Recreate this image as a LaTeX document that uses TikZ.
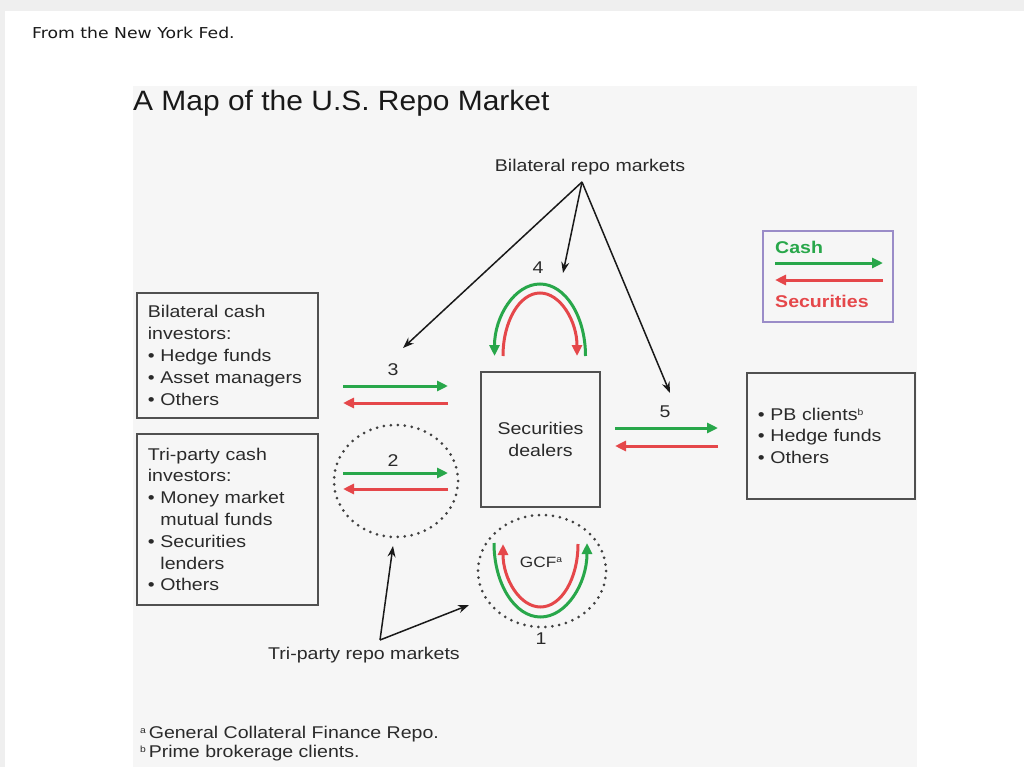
\documentclass[tikz,border=0pt]{standalone}
\usepackage{fontspec}
\setmainfont{Liberation Sans}
\newfontfamily\labfont[FakeStretch=1.15]{Liberation Sans}
\newfontfamily\ttlfont[FakeStretch=1.07]{Liberation Sans}
\newfontfamily\hdrfont[FakeStretch=1.15]{DejaVu Sans}
\usetikzlibrary{arrows.meta}
\definecolor{cgreen}{HTML}{28A74A}
\definecolor{cred}{HTML}{E5474A}
\definecolor{ctext}{HTML}{2A2A2A}
\definecolor{cbox}{HTML}{505050}
\definecolor{cpanel}{HTML}{F6F6F6}
\definecolor{couter}{HTML}{EFEFEF}
\definecolor{clegend}{HTML}{9A8CC8}
\newcommand{\supmark}[1]{\raisebox{5pt}{\fontsize{9}{9}\selectfont #1}}
\begin{document}
\begin{tikzpicture}[x=1pt,y=-1pt,
  lab/.style={font=\labfont\fontsize{17}{21.8}\selectfont, text=ctext, inner sep=0pt},
  box/.style={draw=cbox, line width=1.8pt, lab, align=left, inner xsep=11pt, anchor=north west},
  cashflow/.style={draw=cgreen, line width=3pt, -{Triangle[length=11pt,width=10pt]}},
  secflow/.style={draw=cred, line width=3pt, -{Triangle[length=11pt,width=10pt]}},
  pointer/.style={draw=black!90, line width=1.5pt, -{Stealth[length=11pt,width=8pt]}},
  dotring/.style={draw=black!75, line width=3pt, line cap=round, dash pattern=on 0pt off 7pt},
]
% canvas
\useasboundingbox (0,0) rectangle (1024,767);
\fill[couter] (0,0) rectangle (1024,767);
\fill[white] (5,11) rectangle (1024,767);
\fill[cpanel] (133,86) rectangle (917,767);

% header and title
\node[anchor=base west, inner sep=0pt, text=black!90, font=\hdrfont\fontsize{15}{18}\selectfont] (hdr) at (32,39) {From the New York Fed.};
\node[anchor=base west, inner sep=0pt, text=black!90, font=\ttlfont\fontsize{28}{32}\selectfont] (title) at (133,111) {A Map of the U.S. Repo Market};

% boxes
\node[box, text width=159pt, minimum width=181pt, minimum height=125pt] (bilat) at (136,292)
  {Bilateral cash\\investors:\\• Hedge funds\\• Asset managers\\• Others};
\node[box, text width=159pt, minimum width=181pt, minimum height=171pt] (tri) at (136,433)
  {Tri-party cash\\investors:\\• Money market\\\phantom{• }mutual funds\\• Securities\\\phantom{• }lenders\\• Others};
\node[box, text width=146pt, minimum width=168pt, minimum height=126pt] (pb) at (746,372)
  {• PB clients\supmark{b}\\• Hedge funds\\• Others};
\node[draw=cbox, line width=1.8pt, lab, align=center, minimum width=119pt, minimum height=135pt] (dealers) at (540.5,439.5)
  {Securities\\dealers};

% legend
\node[draw=clegend, line width=1.6pt, anchor=north west, minimum width=130pt, minimum height=91pt, inner sep=0pt] (legend) at (762,230) {};
\node[anchor=west, inner sep=0pt, text=cgreen, font=\labfont\bfseries\fontsize{17}{20}\selectfont] (lcash) at (775,247) {Cash};
\node[anchor=west, inner sep=0pt, text=cred, font=\labfont\bfseries\fontsize{17}{20}\selectfont] (lsec) at (775,301) {Securities};
\draw[cashflow] (775,263) -- (883,263);
\draw[secflow] (883,280) -- (775,280);

% labels
\node[lab] (brm) at (590,167) {Bilateral repo markets};
\node[lab] (trm) at (364,655) {Tri-party repo markets};
\node[lab] (n3) at (393,370) {3};
\node[lab] (n2) at (393,461) {2};
\node[lab] (n4) at (538,268) {4};
\node[lab] (n5) at (665,412) {5};
\node[lab] (n1) at (541,639) {1};
\node[lab, font=\labfont\fontsize{15}{18}\selectfont] (gcf) at (541,562) {GCF\supmark{a}};

% pointer lines
\coordinate (bapex) at (582,182);
\coordinate (t3) at (403,348);
\coordinate (t4) at (563,273);
\coordinate (t5) at (670,393);
\draw[pointer] (bapex) -- (t3);
\draw[pointer] (bapex) -- (t4);
\draw[pointer] (bapex) -- (t5);
\coordinate (tapex) at (380,640);
\coordinate (t2) at (393,546);
\coordinate (t1) at (469,605);
\draw[pointer] (tapex) -- (t2);
\draw[pointer] (tapex) -- (t1);

% dotted rings
\draw[dotring] (396,481) ellipse [x radius=62, y radius=56];
\draw[dotring] (542,571) ellipse [x radius=64, y radius=56];

% flows 3, 2, 5
\draw[cashflow] (343,386) -- (448,386);
\draw[secflow] (448,403) -- (343,403);
\draw[cashflow] (343,473) -- (448,473);
\draw[secflow] (448,489) -- (343,489);
\draw[cashflow] (615,428) -- (718,428);
\draw[secflow] (718,446) -- (615,446);

% flow 4 (arcs above dealers)
\draw[cashflow] (585.5,356) arc[start angle=0, end angle=-180, x radius=45.5, y radius=72];
\draw[secflow] (503,356) arc[start angle=180, end angle=360, x radius=37, y radius=63];

% flow 1 (GCF bowl)
\draw[cashflow] (494,543) arc[start angle=180, end angle=0, x radius=46.5, y radius=74];
\draw[secflow] (578,544) arc[start angle=0, end angle=180, x radius=37.5, y radius=63];

% footnotes
\node[lab, anchor=base west] (fa) at (140,738) {\supmark{a}\,General Collateral Finance Repo.};
\node[lab, anchor=base west] (fb) at (140,757) {\supmark{b}\,Prime brokerage clients.};
\end{tikzpicture}
\end{document}
